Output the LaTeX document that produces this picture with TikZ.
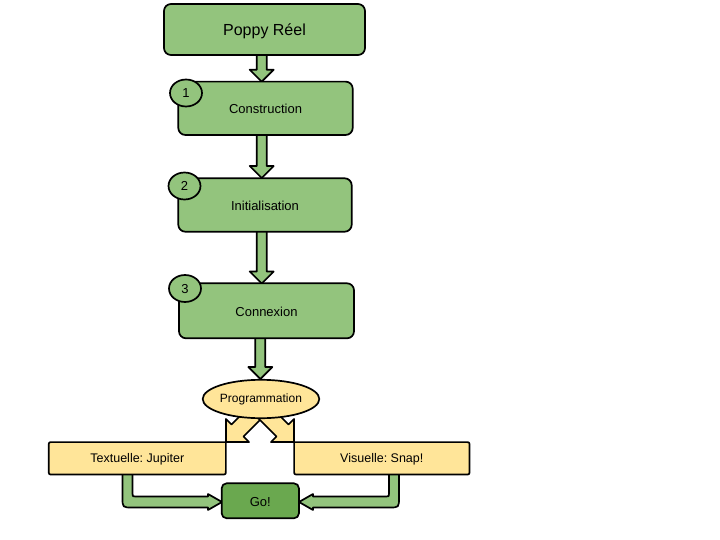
\documentclass[tikz,border=0pt]{standalone}
\usepackage{fontspec}
\setmainfont{Liberation Sans}
\usetikzlibrary{shapes.geometric,calc}
\pgfdeclarelayer{background}
\pgfdeclarelayer{mid}
\pgfsetlayers{background,mid,main}
\definecolor{gr}{HTML}{93C47D}
\definecolor{dgr}{HTML}{6AA84F}
\definecolor{yel}{HTML}{FFE599}
\tikzset{
  outl/.style={draw=black, line width=1.7pt, line join=round},
  gbox/.style={outl, fill=gr, rounded corners=7pt, inner sep=0pt, text height=11.2pt, text depth=0pt, font=\fontsize{13}{15}\selectfont},
  ybox/.style={inner sep=0pt, text height=9pt, text depth=0pt, font=\fontsize{12.5}{15}\selectfont},
  numcirc/.style={outl, fill=gr, ellipse, minimum width=32pt, minimum height=27pt, inner sep=0pt, text height=9.3pt, text depth=0pt, font=\fontsize{13}{15}\selectfont},
  garrow/.style={outl, fill=gr},
  yarrow/.style={outl, fill=yel}
}
\newcommand\fatdown[3]{% x, ystart, ytip
  \filldraw[garrow] (#1-5,#2) -- (#1-5,#3-12) -- (#1-12,#3-12) -- (#1,#3) -- (#1+12,#3-12) -- (#1+5,#3-12) -- (#1+5,#2) -- cycle;}
\begin{document}
\frenchspacing
\begin{tikzpicture}[x=1pt,y=-1pt]
\useasboundingbox (0,0) rectangle (720,540);
% nodes
\node[gbox, minimum width=201pt, minimum height=51pt, text height=11.8pt, font=\fontsize{16}{19}\selectfont] (poppy) at (264.5,29.5) {Poppy Réel};
\node[gbox, minimum width=174.4pt, minimum height=53.3pt] (cons) at (265.5,108.3) {Construction};
\node[gbox, minimum width=173.4pt, minimum height=53.4pt] (init) at (265,205) {Initialisation};
\node[gbox, minimum width=175pt, minimum height=55pt] (conn) at (266.5,310.8) {Connexion};
\node[numcirc] (c1) at (186,93) {1};
\node[numcirc] (c2) at (184.5,186) {2};
\node[numcirc] (c3) at (185,288.5) {3};
\node[outl, fill=yel, ellipse, minimum width=116.6pt, minimum height=38.4pt, inner sep=0pt, text height=7.2pt, text depth=0pt, font=\fontsize{12}{14}\selectfont] (prog) at (261,399) {Programmation};
\node[ybox, minimum width=176.7pt, minimum height=32pt] (text) at (137.3,458.3) {Textuelle: Jupiter};
\node[ybox, minimum width=175pt, minimum height=32pt] (vis) at (381.8,458.3) {Visuelle: Snap!};
\node[outl, fill=dgr, rounded corners=5pt, minimum width=77.3pt, minimum height=35pt, inner sep=0pt, text height=11.2pt, text depth=0pt, font=\fontsize{13}{15}\selectfont] (go) at (260.3,500.8) {Go!};
% yellow box outlines (one square corner each)
\begin{pgfonlayer}{mid}
\filldraw[outl, fill=yel] (text.north east) -- ($(text.south east)+(0,-4)$) .. controls (text.south east) .. ($(text.south east)+(-4,0)$) -- ($(text.south west)+(4,0)$) .. controls (text.south west) .. ($(text.south west)+(0,-4)$) -- ($(text.north west)+(0,4)$) .. controls (text.north west) .. ($(text.north west)+(4,0)$) -- cycle;
\filldraw[outl, fill=yel] (vis.north west) -- ($(vis.north east)+(-4,0)$) .. controls (vis.north east) .. ($(vis.north east)+(0,4)$) -- ($(vis.south east)+(0,-4)$) .. controls (vis.south east) .. ($(vis.south east)+(-4,0)$) -- ($(vis.south west)+(4,0)$) .. controls (vis.south west) .. ($(vis.south west)+(0,-4)$) -- cycle;
\end{pgfonlayer}
% connectors
\begin{pgfonlayer}{background}
\fatdown{261.7}{50}{81.7}
\fatdown{261.7}{130}{178}
\fatdown{261.7}{226}{283.5}
\fatdown{260.3}{333}{379}
% diagonal yellow arrows
\filldraw[yarrow] (226,442) -- (226,419) -- (231.5,424.5) -- (261.5,394.5) -- (273.5,406.5) -- (243.5,436.5) -- (249,442) -- cycle;
\filldraw[yarrow] (294,442) -- (294,419) -- (288.5,424.5) -- (258.5,394.5) -- (246.5,406.5) -- (276.5,436.5) -- (271,442) -- cycle;
% bent green arrows
\filldraw[garrow] (122.5,468) -- (122.5,497.5) .. controls (122.5,507.5) .. (132.5,507.5) -- (208,507.5) -- (208,510) -- (222,502) -- (208,494) -- (208,496.5) -- (135.5,496.5) .. controls (132.5,496.5) .. (132.5,493.5) -- (132.5,468) -- cycle;
\filldraw[garrow] (399,468) -- (399,497.5) .. controls (399,507.5) .. (389,507.5) -- (313,507.5) -- (313,510) -- (299,502) -- (313,494) -- (313,496.5) -- (386,496.5) .. controls (389,496.5) .. (389,493.5) -- (389,468) -- cycle;
\end{pgfonlayer}
\end{tikzpicture}
\end{document}
